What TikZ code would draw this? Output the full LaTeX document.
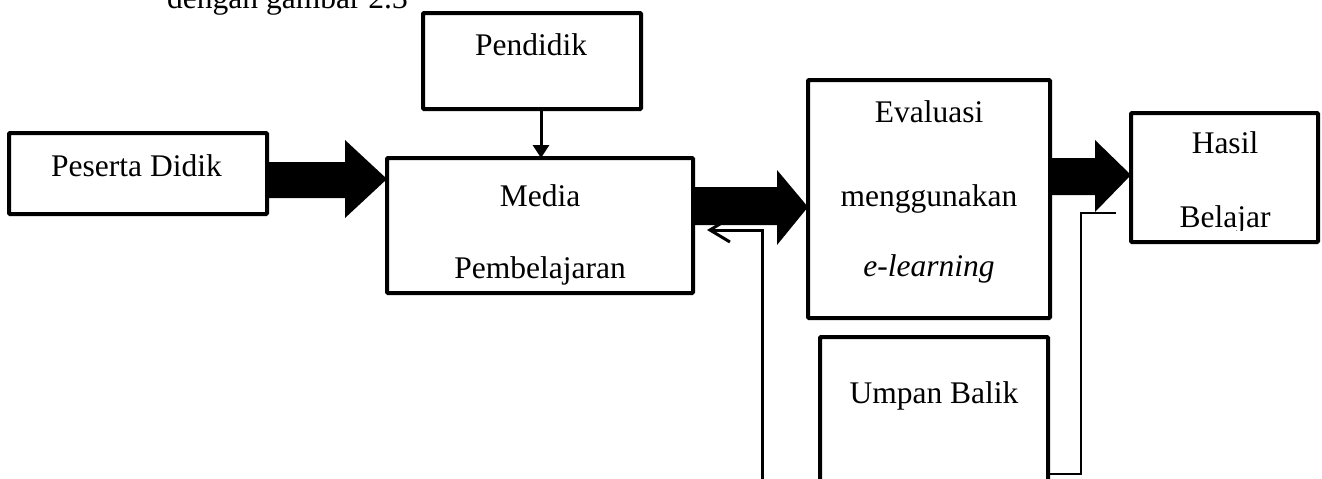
\documentclass[tikz,border=0pt]{standalone}
\usepackage{fontspec}
\setmainfont{Liberation Serif}
\usetikzlibrary{arrows.meta,calc}
\begin{document}
\begin{tikzpicture}[x=1pt,y=-1pt,
  box/.style={draw, line width=4pt, rounded corners=1pt, inner sep=0pt, outer sep=0pt},
  txt/.style={font=\fontsize{31.5}{36}\selectfont, anchor=base, inner sep=0pt},
  blockarrow/.style={fill=black, draw=none},
  fb/.style={draw, line width=3pt}
]
\useasboundingbox (0,0) rectangle (1322,479);

% top text (cut off at top)
\node[txt, anchor=base west] (cap) at (167,9) {dengan gambar 2.3};

% boxes
\node[box, minimum width=218pt, minimum height=96pt] (pd) at (532,61) {};
\node[box, minimum width=258pt, minimum height=81pt] (ps) at (138,173.5) {};
\node[box, minimum width=306pt, minimum height=135pt] (md) at (540,225.5) {};
\node[box, minimum width=242pt, minimum height=238pt] (ev) at (929,199) {};
\node[box, minimum width=187pt, minimum height=129pt] (hb) at (1224.5,177.5) {};
\node[box, minimum width=228pt, minimum height=223pt] (ub) at (934,448.5) {};

% texts
\node[txt] (tpd) at (531,55) {Pendidik};
\node[txt] (tps) at (136.5,176) {Peserta Didik};
\node[txt] (tmd1) at (540,206) {Media};
\node[txt] (tmd2) at (540,278) {Pembelajaran};
\node[txt] (tev1) at (929,122) {Evaluasi};
\node[txt] (tev2) at (929,206) {menggunakan};
\node[txt] (tev3) at (929,276) {\itshape e-learning};
\node[txt] (thb1) at (1225,153) {Hasil};
\begin{scope}
  \clip (1131,190) rectangle (1318,230);
  \node[txt] (thb2) at (1225,227) {Belajar};
\end{scope}
\node[txt] (tub) at (934,403) {Umpan Balik};

% Pendidik -> Media
\draw[line width=3pt, -{Triangle[width=16pt,length=13pt]}] (pd.south -| 541,0) -- (md.north -| 541,0);

% block arrows
\fill[blockarrow] (ps.east |- 0,162) -- (345,162) -- (345,140) -- (md.west |- 0,179) -- (345,218) -- (345,198) -- (ps.east |- 0,198) -- cycle;
\fill[blockarrow] (md.east |- 0,187) -- (777,187) -- (777,170) -- (ev.west |- 0,207) -- (777,245) -- (777,225) -- (md.east |- 0,225) -- cycle;
\fill[blockarrow] (ev.east |- 0,158) -- (1095,158) -- (1095,140) -- (hb.west |- 0,175) -- (1095,212) -- (1095,195) -- (ev.east |- 0,195) -- cycle;

% feedback lines
\coordinate (fbl) at (762,520);
\coordinate (fbltip) at (707,230);
\draw[fb, -{Straight Barb[length=20pt,width=24pt,line width=3pt]}] (fbl) |- (fbltip);
\coordinate (fbr) at (1116,213);
\draw[fb, line width=2.5pt] (ub.east |- 0,474) -| (1081,213) -- (fbr);
\end{tikzpicture}
\end{document}
